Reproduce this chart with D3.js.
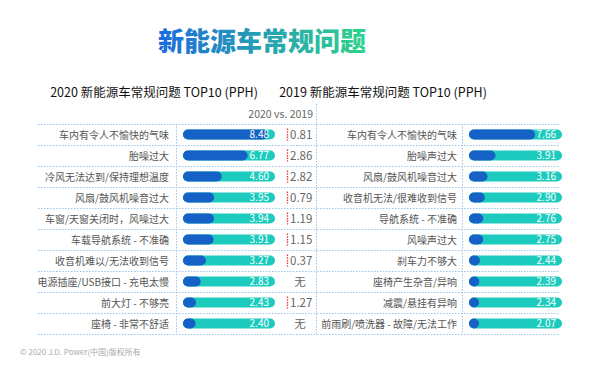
<!DOCTYPE html>
<html>
<head>
<meta charset="utf-8">
<script src="https://cdn.jsdelivr.net/npm/d3@7"></script>
<style>
  body { margin: 0; background: #fff; }
  svg { display: block; font-family: "Noto Sans CJK SC", "Noto Sans", sans-serif; }
</style>
</head>
<body>
<script>
// 2020 table
var issues2020 = ["车内有令人不愉快的气味", "胎噪过大", "冷风无法达到/保持理想温度", "风扇/鼓风机噪音过大",
  "车窗/天窗关闭时，风噪过大", "车载导航系统 - 不准确", "收音机难以/无法收到信号", "电源插座/USB接口 - 充电太慢",
  "前大灯 - 不够亮", "座椅 - 非常不舒适"];
var pph2020 = [8.48, 6.77, 4.60, 3.95, 3.94, 3.91, 3.27, 2.83, 2.43, 2.40];
// 2020 vs. 2019 column (null = 无)
var diff = [0.81, 2.86, 2.82, 0.79, 1.19, 1.15, 0.37, null, 1.27, null];

// 2019 table
var issues2019 = ["车内有令人不愉快的气味", "胎噪声过大", "风扇/鼓风机噪音过大", "收音机无法/很难收到信号",
  "导航系统 - 不准确", "风噪声过大", "刹车力不够大", "座椅产生杂音/异响", "减震/悬挂有异响", "前雨刷/喷洗器 - 故障/无法工作"];
var pph2019 = [7.66, 3.91, 3.16, 2.90, 2.76, 2.75, 2.44, 2.39, 2.34, 2.07];

var W = 600, H = 365;
var svg = d3.select("body").append("svg").attr("width", W).attr("height", H);

var defs = svg.append("defs");
var grad = defs.append("linearGradient").attr("id", "tg").attr("x1", "0%").attr("x2", "100%");
grad.append("stop").attr("offset", "0%").attr("stop-color", "#1c6cdc");
grad.append("stop").attr("offset", "100%").attr("stop-color", "#30d38a");

svg.append("text").attr("x", 262).attr("y", 51).attr("text-anchor", "middle")
  .attr("font-size", 26).attr("font-weight", 900).attr("fill", "url(#tg)")
  .text("新能源车常规问题");

svg.append("text").attr("x", 154).attr("y", 97).attr("text-anchor", "middle")
  .attr("font-size", 12.5).attr("font-weight", 400).attr("fill", "#111")
  .text("2020 新能源车常规问题 TOP10 (PPH)");
svg.append("text").attr("x", 383).attr("y", 97).attr("text-anchor", "middle")
  .attr("font-size", 12.5).attr("font-weight", 400).attr("fill", "#111")
  .text("2019 新能源车常规问题 TOP10 (PPH)");

svg.append("text").attr("x", 313).attr("y", 118).attr("text-anchor", "end")
  .attr("font-size", 10.5).attr("fill", "#666").text("2020 vs. 2019");

var y = d3.scaleBand().domain(d3.range(10)).range([124, 334]);
var barH = 10;
var grid = "#9cc4ea";

// grid lines
var g = svg.append("g").attr("stroke", grid).attr("stroke-dasharray", "1.5,1.5").attr("stroke-width", 1);
g.selectAll("line.h").data(d3.range(11)).enter().append("line")
  .attr("x1", 38).attr("x2", 560)
  .attr("y1", function(d) { return 124 + d * y.step() + 0.5; })
  .attr("y2", function(d) { return 124 + d * y.step() + 0.5; });
g.append("line").attr("x1", 176.5).attr("x2", 176.5).attr("y1", 124).attr("y2", 334);
g.append("line").attr("x1", 316.5).attr("x2", 316.5).attr("y1", 104).attr("y2", 334);
g.append("line").attr("x1", 462.5).attr("x2", 462.5).attr("y1", 124).attr("y2", 334);

function panel(labels, values, labelX, x0, x1, dom) {
  var x = d3.scaleLinear().domain(dom).range([x0, x1]);
  var rows = svg.append("g").selectAll("g").data(values).enter().append("g")
    .attr("transform", function(d, i) { return "translate(0," + (y(i) + y.bandwidth() / 2) + ")"; });
  rows.append("text").attr("x", labelX).attr("y", 4).attr("text-anchor", "end")
    .attr("font-size", 10).attr("fill", "#555")
    .text(function(d, i) { return labels[i]; });
  rows.append("rect").attr("x", x0).attr("y", -barH / 2).attr("height", barH)
    .attr("width", x1 - x0).attr("rx", barH / 2).attr("fill", "#1ccbbd");
  rows.append("rect").attr("x", x0).attr("y", -barH / 2).attr("height", barH)
    .attr("width", function(d) { return Math.max(barH, x(d) - x0); })
    .attr("rx", barH / 2).attr("fill", "#1561c6");
  rows.append("text").attr("x", x1 - 6).attr("y", 3.6).attr("text-anchor", "end")
    .attr("font-size", 10).attr("fill", "#fff")
    .text(function(d) { return d.toFixed(2); });
}

panel(issues2020, pph2020, 169, 183, 275, [1.34, 9.07]);
panel(issues2019, pph2019, 457, 469, 562, [1.41, 10.2]);

// 2020 vs. 2019 column
var mid = svg.append("g").selectAll("g").data(diff).enter().append("g")
  .attr("transform", function(d, i) { return "translate(0," + (y(i) + y.bandwidth() / 2) + ")"; });
mid.filter(function(d) { return d !== null; }).append("line")
  .attr("x1", 287.5).attr("x2", 287.5).attr("y1", -6).attr("y2", 6)
  .attr("stroke", "#e8303a").attr("stroke-width", 1.3).attr("stroke-dasharray", "1.5,1.2");
mid.append("text")
  .attr("x", function(d) { return d === null ? 300 : 290; })
  .attr("text-anchor", function(d) { return d === null ? "middle" : "start"; })
  .attr("y", 4.3).attr("font-size", 11.5).attr("fill", "#666")
  .text(function(d) { return d === null ? "无" : d.toFixed(2); });

svg.append("text").attr("x", 20).attr("y", 355).attr("font-size", 8).attr("fill", "#aaa")
  .text("© 2020 J.D. Power(中国)版权所有");
</script>
</body>
</html>
